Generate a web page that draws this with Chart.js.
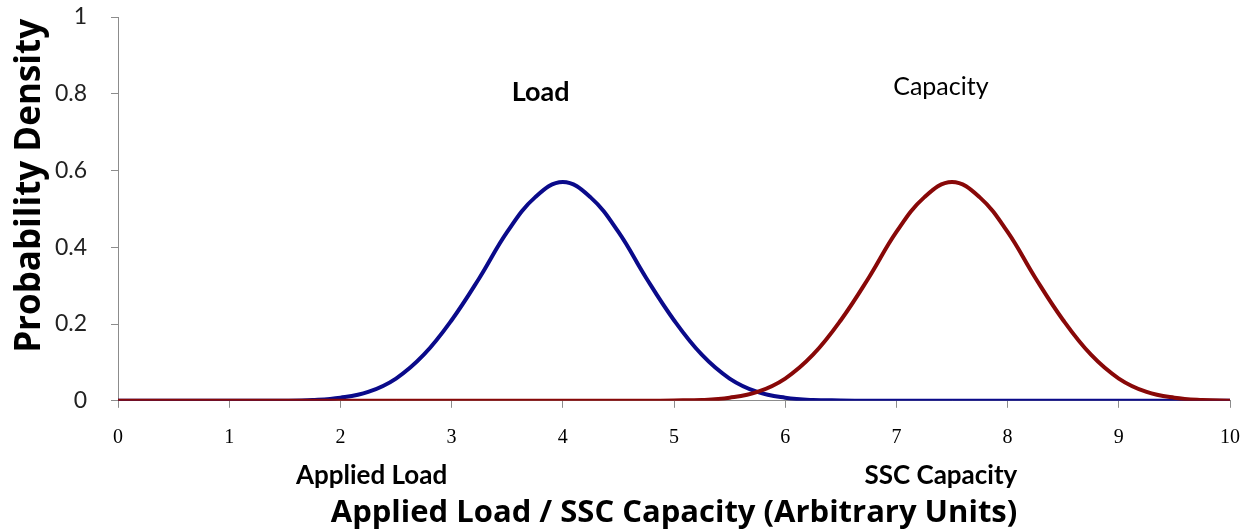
<!DOCTYPE html>
<html>
<head>
<meta charset="utf-8">
<script src="https://cdn.jsdelivr.net/npm/chart.js@4"></script>
<style>
  html, body { margin: 0; padding: 0; background: #fff; }
  #wrap { width: 1253px; height: 532px; position: relative; }
</style>
</head>
<body>
<div id="wrap"><canvas id="chart"></canvas></div>
<script>
// x positions (every quarter unit)
var xValues = [0, 0.25, 0.5, 0.75, 1, 1.25, 1.5, 1.75, 2, 2.25, 2.5, 2.75, 3, 3.25, 3.5, 3.75,
  4, 4.25, 4.5, 4.75, 5, 5.25, 5.5, 5.75, 6, 6.25, 6.5, 6.75, 7, 7.25, 7.5, 7.75,
  8, 8.25, 8.5, 8.75, 9, 9.25, 9.5, 9.75, 10];

var loadDensity = [0, 0, 0, 0, 0, 0, 0, 0.002, 0.008, 0.023, 0.058, 0.12, 0.21, 0.32, 0.44, 0.53,
  0.57, 0.53, 0.44, 0.32, 0.21, 0.12, 0.058, 0.023, 0.008, 0.002, 0.001, 0, 0, 0, 0, 0,
  0, 0, 0, 0, 0, 0, 0, 0, 0];

var capacityDensity = [0, 0, 0, 0, 0, 0, 0, 0, 0, 0, 0, 0, 0, 0, 0, 0,
  0, 0, 0, 0, 0.001, 0.002, 0.008, 0.023, 0.058, 0.12, 0.21, 0.32, 0.44, 0.53, 0.57, 0.53,
  0.44, 0.32, 0.21, 0.12, 0.058, 0.023, 0.008, 0.002, 0];

var yTicks = [0, 0.2, 0.4, 0.6, 0.8, 1];

function toPoints(ys) {
  return xValues.map(function (x, i) { return { x: x, y: ys[i] }; });
}

var sansFont = "Lato, 'Open Sans', sans-serif";
var titleFont = "'Open Sans', sans-serif";

// text notes placed with the chart's own scales
var notesPlugin = {
  id: 'notes',
  afterDraw: function (chart) {
    var ctx = chart.ctx;
    var xs = chart.scales.x, ys = chart.scales.y;
    ctx.save();
    ctx.fillStyle = '#000';
    ctx.textAlign = 'center';
    ctx.textBaseline = 'middle';

    ctx.font = 'bold 27px ' + sansFont;
    ctx.fillText('Load', xs.getPixelForValue(3.8), ys.getPixelForValue(0.805));

    ctx.font = '25px ' + sansFont;
    ctx.fillText('Capacity', xs.getPixelForValue(7.4), ys.getPixelForValue(0.817));

    var below = chart.chartArea.bottom + 75;
    ctx.font = 'bold 26px ' + sansFont;
    ctx.fillText('Applied Load', xs.getPixelForValue(2.28), below);
    ctx.fillText('SSC Capacity', xs.getPixelForValue(7.4), below);

    // y axis title, sits a little above the middle as in the original
    ctx.translate(30, ys.getPixelForValue(0.56));
    ctx.rotate(-Math.PI / 2);
    ctx.font = 'bold 35px ' + titleFont;
    ctx.fillText('Probability Density', 0, 0);
    ctx.restore();
  }
};

new Chart(document.getElementById('chart'), {
  type: 'line',
  data: {
    // capacity first so the red line is drawn over the blue one
    datasets: [{
      label: 'Capacity',
      data: toPoints(capacityDensity),
      borderColor: '#880808',
      borderWidth: 4,
      pointRadius: 0,
      tension: 0.4,
      fill: false
    }, {
      label: 'Load',
      data: toPoints(loadDensity),
      borderColor: '#0a0a8a',
      borderWidth: 4,
      pointRadius: 0,
      tension: 0.4,
      fill: false
    }]
  },
  options: {
    responsive: true,
    maintainAspectRatio: false,
    animation: false,
    layout: { padding: { left: 52, right: 8, top: 17, bottom: 0 } },
    plugins: {
      legend: { display: false },
      tooltip: { enabled: false }
    },
    scales: {
      x: {
        type: 'linear',
        min: 0,
        max: 10,
        afterFit: function (axis) {
          axis.paddingRight = 23;
        },
        ticks: {
          stepSize: 1,
          color: '#000',
          padding: 18,
          font: { family: "'Liberation Serif', serif", size: 20 }
        },
        grid: { drawOnChartArea: false, drawTicks: true, tickLength: 7, color: '#8c8c8c' },
        border: { display: true, color: '#8c8c8c', width: 1 },
        title: {
          display: true,
          text: 'Applied Load / SSC Capacity (Arbitrary Units)',
          color: '#000',
          font: { family: titleFont, size: 31, weight: 'bold' },
          padding: { top: 27, bottom: 0 }
        }
      },
      y: {
        min: 0,
        max: 1,
        afterBuildTicks: function (axis) {
          axis.ticks = yTicks.map(function (v) { return { value: v }; });
        },
        afterFit: function (axis) {
          axis.width = 66;
          axis.paddingTop = 0;
          axis.paddingBottom = 0;
        },
        ticks: {
          color: '#222',
          padding: 24,
          font: { family: sansFont, size: 23 },
          callback: function (v) { return String(v); }
        },
        grid: { drawOnChartArea: false, drawTicks: true, tickLength: 7, color: '#8c8c8c' },
        border: { display: true, color: '#8c8c8c', width: 1 },
        title: { display: false }
      }
    }
  },
  plugins: [notesPlugin]
});
</script>
</body>
</html>
